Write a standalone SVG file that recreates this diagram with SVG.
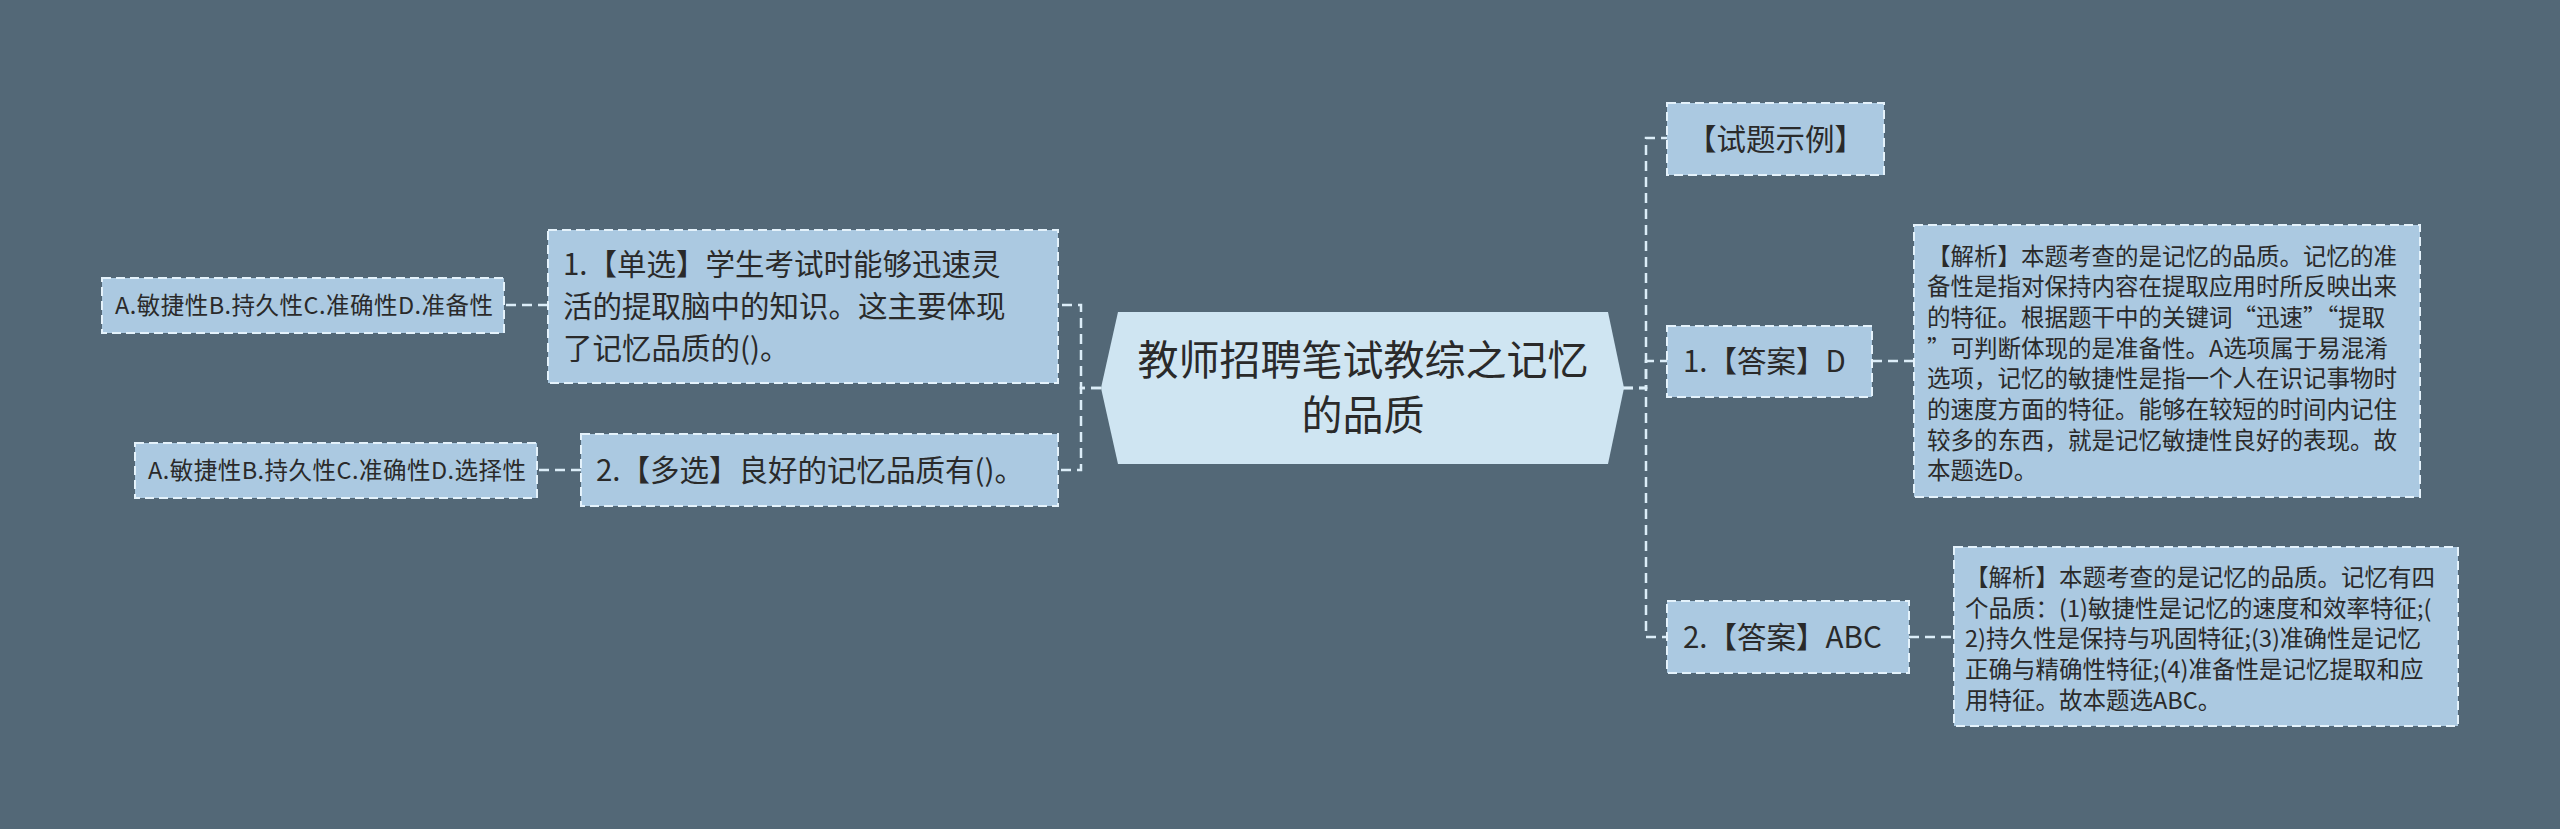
<svg xmlns="http://www.w3.org/2000/svg" width="2560" height="829" viewBox="0 0 2560 829">
<style>
.bg{fill:#536877}
.box{fill:#abc9e1;stroke:#e4f2fb;stroke-width:2;stroke-dasharray:9 5}
.center{fill:#cfe5f2}
.conn{fill:none;stroke:#dcedf8;stroke-width:2.5;stroke-dasharray:10 6}
text{font-family:"Noto Sans CJK SC","Noto Sans",sans-serif;fill:#2a2a2a}
.t40{font-size:41px}
.t30{font-size:29.5px}
.t24{font-size:23.5px}
</style>
<rect class="bg" x="0" y="0" width="2560" height="829"/>
<g id="connectors">
<path class="conn" d="M1101,388 H1081 V305 H1058"/>
<path class="conn" d="M1101,388 H1081 V470 H1058"/>
<path class="conn" d="M548,305 H504"/>
<path class="conn" d="M581,470 H537"/>
<path class="conn" d="M1623,388 H1646 V138 H1667"/>
<path class="conn" d="M1623,388 H1646 V361 H1667"/>
<path class="conn" d="M1623,388 H1646 V637 H1667"/>
<path class="conn" d="M1872,361 H1914"/>
<path class="conn" d="M1909,637 H1954"/>
</g>
<g id="center">
<polygon class="center" points="1118,312 1608,312 1624,388 1608,464 1118,464 1101,388"/>
<text class="t40" x="1363" y="375" text-anchor="middle">教师招聘笔试教综之记忆</text>
<text class="t40" x="1363" y="430" text-anchor="middle">的品质</text>
</g>
<g id="q1">
<rect class="box" x="548" y="230" width="510" height="153"/>
<text class="t30" x="563" y="275">1.【单选】学生考试时能够迅速灵</text>
<text class="t30" x="563" y="317">活的提取脑中的知识。这主要体现</text>
<text class="t30" x="563" y="359">了记忆品质的()。</text>
</g>
<g id="q2">
<rect class="box" x="581" y="434" width="477" height="72"/>
<text class="t30" x="596" y="481">2.【多选】良好的记忆品质有()。</text>
</g>
<g id="opt1">
<rect class="box" x="102" y="278" width="402" height="55"/>
<text class="t24" x="115" y="314" textLength="378" lengthAdjust="spacing">A.敏捷性B.持久性C.准确性D.准备性</text>
</g>
<g id="opt2">
<rect class="box" x="135" y="443" width="402" height="55"/>
<text class="t24" x="148" y="479" textLength="378" lengthAdjust="spacing">A.敏捷性B.持久性C.准确性D.选择性</text>
</g>
<g id="example">
<rect class="box" x="1667" y="103" width="217" height="72"/>
<text class="t30" x="1775.5" y="150" text-anchor="middle">【试题示例】</text>
</g>
<g id="ans1">
<rect class="box" x="1667" y="326" width="205" height="71"/>
<text class="t30" x="1683" y="372">1.【答案】D</text>
</g>
<g id="ans2">
<rect class="box" x="1667" y="601" width="242" height="72"/>
<text class="t30" x="1683" y="648">2.【答案】ABC</text>
</g>
<g id="exp1">
<rect class="box" x="1914" y="225" width="506" height="272"/>
<text class="t24" x="1927" y="264.5">【解析】本题考查的是记忆的品质。记忆的准</text>
<text class="t24" x="1927" y="295.2">备性是指对保持内容在提取应用时所反映出来</text>
<text class="t24" x="1927" y="325.9">的特征。根据题干中的关键词“迅速”“提取</text>
<text class="t24" x="1927" y="356.6">”可判断体现的是准备性。A选项属于易混淆</text>
<text class="t24" x="1927" y="387.3">选项，记忆的敏捷性是指一个人在识记事物时</text>
<text class="t24" x="1927" y="418">的速度方面的特征。能够在较短的时间内记住</text>
<text class="t24" x="1927" y="448.7">较多的东西，就是记忆敏捷性良好的表现。故</text>
<text class="t24" x="1927" y="479.4">本题选D。</text>
</g>
<g id="exp2">
<rect class="box" x="1954" y="547" width="504" height="179"/>
<text class="t24" x="1965" y="586">【解析】本题考查的是记忆的品质。记忆有四</text>
<text class="t24" x="1965" y="616.7">个品质：(1)敏捷性是记忆的速度和效率特征;(</text>
<text class="t24" x="1965" y="647.4">2)持久性是保持与巩固特征;(3)准确性是记忆</text>
<text class="t24" x="1965" y="678.1">正确与精确性特征;(4)准备性是记忆提取和应</text>
<text class="t24" x="1965" y="708.8">用特征。故本题选ABC。</text>
</g>
</svg>
